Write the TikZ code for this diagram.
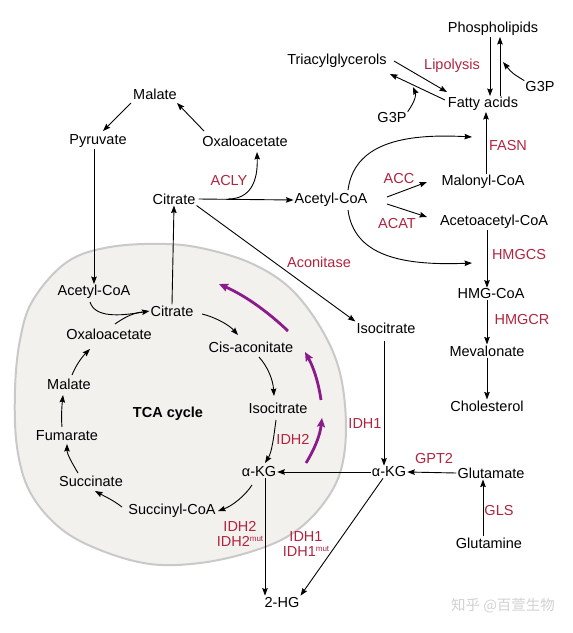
\documentclass[tikz,border=0pt]{standalone}
\usepackage{fontspec}
\setmainfont{Liberation Sans}
\newfontfamily\cjk{Noto Sans CJK SC}
\usetikzlibrary{arrows.meta,calc}
\definecolor{enzred}{HTML}{B0243F}
\definecolor{purp}{HTML}{8B1A8A}
\definecolor{blobfill}{HTML}{F3F1EE}
\definecolor{blobline}{HTML}{C9C9C9}
\tikzset{
  txt/.style={inner sep=1pt, font=\fontsize{14.5}{16}\selectfont},
  enz/.style={txt, text=enzred},
  arr/.style={line width=0.9pt, -{Stealth[length=7.5pt,width=5.5pt,inset=1pt]}},
  parr/.style={line width=2.8pt, purp, -{Stealth[length=9pt,width=8pt,inset=1.5pt]}},
  ln/.style={line width=0.9pt}
}
\newcommand{\mutsup}{\raisebox{5pt}{\fontsize{8}{8}\selectfont mut}}
\begin{document}
\begin{tikzpicture}[x=1pt,y=-1pt]
\useasboundingbox (0,0) rectangle (573,633);
% mitochondrion
\draw[blobline, fill=blobfill, line width=2pt] plot[smooth cycle, tension=0.6] coordinates {
(33,300) (67,262) (110,247) (167,244) (210,250) (255,265) (292,290) (322,330) (340,373) (346,427) (340,473) (320,508) (290,535) (250,552) (200,563) (150,564) (100,550) (60,528) (30,492) (17,447) (15,390) (20,340)};
% nodes
\node[txt] (phos) at (493,29) {Phospholipids};
\node[txt] (tag) at (337,61) {Triacylglycerols};
\node[enz] (lipo) at (452,66) {Lipolysis};
\node[txt] (fa) at (483,104) {Fatty acids};
\node[txt] (g3pR) at (540,87) {G3P};
\node[txt] (g3pL) at (392,118) {G3P};
\node[txt] (malC) at (155,94) {Malate};
\node[txt] (pyr) at (98,141) {Pyruvate};
\node[txt] (oaaC) at (245,141) {Oxaloacetate};
\node[txt] (citC) at (174,199) {Citrate};
\node[enz] (acly) at (229,181) {ACLY};
\node[txt] (acoC) at (331,200) {Acetyl-CoA};
\node[txt] (malo) at (483,182) {Malonyl-CoA};
\node[txt] (acac) at (494,222) {Acetoacetyl-CoA};
\node[enz] (acc) at (399,179) {ACC};
\node[enz] (acat) at (397,224) {ACAT};
\node[enz] (fasn) at (508,146) {FASN};
\node[enz] (hmgcs) at (519,255) {HMGCS};
\node[txt] (hmg) at (491,294) {HMG-CoA};
\node[enz] (hmgcr) at (522,320) {HMGCR};
\node[txt] (mev) at (487,351) {Mevalonate};
\node[txt] (chol) at (487,406) {Cholesterol};
\node[enz] (aconit) at (319,262) {Aconitase};
\node[txt] (isoC) at (386,328) {Isocitrate};
\node[enz] (idh1) at (365,424) {IDH1};
\node[txt] (akgC) at (389,472) {α-KG};
\node[enz] (gpt2) at (434,459) {GPT2};
\node[txt] (glu) at (491,473) {Glutamate};
\node[enz] (gls) at (499,511) {GLS};
\node[txt] (gln) at (489,543) {Glutamine};
\node[txt] (acoM) at (94,292) {Acetyl-CoA};
\node[txt] (citM) at (172,311) {Citrate};
\node[txt] (oaaM) at (109,334) {Oxaloacetate};
\node[txt] (cis) at (251,347) {Cis-aconitate};
\node[txt] (malM) at (69,384) {Malate};
\node[txt] (isoM) at (278,408) {Isocitrate};
\node[txt, font=\fontsize{14.5}{16}\selectfont\bfseries] (tca) at (168,414) {TCA cycle};
\node[txt] (fum) at (67,436) {Fumarate};
\node[enz] (idh2a) at (293,439) {IDH2};
\node[txt] (akgM) at (259,472) {α-KG};
\node[txt] (succ) at (91,481) {Succinate};
\node[txt] (succoa) at (172,511) {Succinyl-CoA};
\node[enz, align=center] (idh2b) at (240,534) {IDH2\\[-1pt]IDH2\mutsup};
\node[enz, align=center] (idh1b) at (306,544) {IDH1\\[-1pt]IDH1\mutsup};
\node[txt] (hg) at (282,602) {2-HG};
\node[inner sep=0pt, font=\cjk\fontsize{14.5}{16}\selectfont, text=black!18] (wm) at (503,606) {知乎 @百萱生物};
% lipid part
\draw[arr] (phos.south -| 490,0) -- (fa.north -| 490,0);
\draw[arr] (fa.north -| 500,0) -- (phos.south -| 500,0);
\coordinate (g3pRend) at (503,62);
\draw[arr] (g3pR.north west) .. controls (512,73) .. (g3pRend);
\coordinate (t1) at (394,61);
\coordinate (f1) at (447,92);
\coordinate (f2) at (445,100);
\coordinate (t2) at (390,74);
\draw[arr] (t1) -- (f1);
\draw[arr] (f2) -- (t2);
\draw[arr] (g3pL.north east) .. controls (416,100) and (416,94) .. (413,87);
% top-left cytosol
\coordinate (pyrin) at (103,131);
\coordinate (malout) at (131,103);
\coordinate (malin) at (177,103);
\coordinate (oaaout) at (204,131);
\coordinate (oaatip) at (257,152);
\draw[arr] (malout) -- (pyrin);
\draw[arr] (oaaout) -- (malin);
\draw[arr] (citC.east) ++(2,0) coordinate (c1) -- (acoC.west);
\draw[arr] (228,199) .. controls (250,199) and (258,182) .. (oaatip);
\draw[arr] (pyr.south -| acoM.north) -- (acoM.north);
\draw[arr] (citM.north) -- (citC.south);
\draw[arr] (citC.south east) -- (isoC.north west);
% acetyl-CoA branches
\draw[arr] (acoC.north) ++(17,-2) .. controls (354,145) and (400,133) .. (472,137);
\draw[arr] (acoC.south) ++(17,2) .. controls (354,255) and (400,266) .. (472,263);
\draw[arr] (387,197) -- (427,182);
\draw[arr] (387,204) -- (427,217);
\draw[arr] (malo.north -| 486,0) -- (fa.south -| 486,0);
\draw[arr] (acac.south -| 487,0) -- (hmg.north -| 487,0);
\draw[arr] (hmg.south -| 487,0) -- (mev.north -| 487,0);
\draw[arr] (mev.south -| 487,0) -- (chol.north -| 487,0);
% cytosolic isocitrate / alpha-KG
\draw[arr] (isoC.south -| 384,0) ++(0,6) -- (akgC.north -| 384,0);
\draw[arr] (glu.west) -- (akgC.east);
\draw[arr] (gln.north -| 483,0) -- (glu.south -| 483,0);
\draw[arr] (akgC.west) -- (akgM.east);
\draw[arr] (akgM.south -| 265,0) -- (hg.north -| 265,0);
\draw[arr] (akgC.south) ++(-6,0) -- (hg.north east);
% TCA cycle
\draw[arr] (90,302) .. controls (95,318) and (120,316) .. (citM.west);
\draw[ln] (115,324) .. controls (122,319) and (132,313) .. (142,312);
\draw[arr] (202,314) .. controls (218,318) and (230,326) .. (238,335);
\draw[arr] (259,357) .. controls (268,367) and (273,380) .. (274,396);
\draw[arr] (276,420) .. controls (274,435) and (272,452) .. (265,463);
\draw[arr] (252,485) .. controls (245,496) and (232,506) .. (218,511);
\draw[arr] (122,507) .. controls (113,500) and (104,496) .. (95,491);
\draw[arr] (78,473) .. controls (72,463) and (67,454) .. (67,444);
\draw[arr] (62,427) .. controls (61,416) and (62,405) .. (63,395);
\draw[arr] (72,375) .. controls (76,365) and (82,357) .. (90,349);
% purple arrows
\draw[parr] (306,463) .. controls (314,450) and (320,436) .. (322,418);
\draw[parr] (321,400) .. controls (319,385) and (314,368) .. (305,352);
\draw[parr] (288,331) .. controls (268,312) and (246,296) .. (219,284);
\end{tikzpicture}
\end{document}
